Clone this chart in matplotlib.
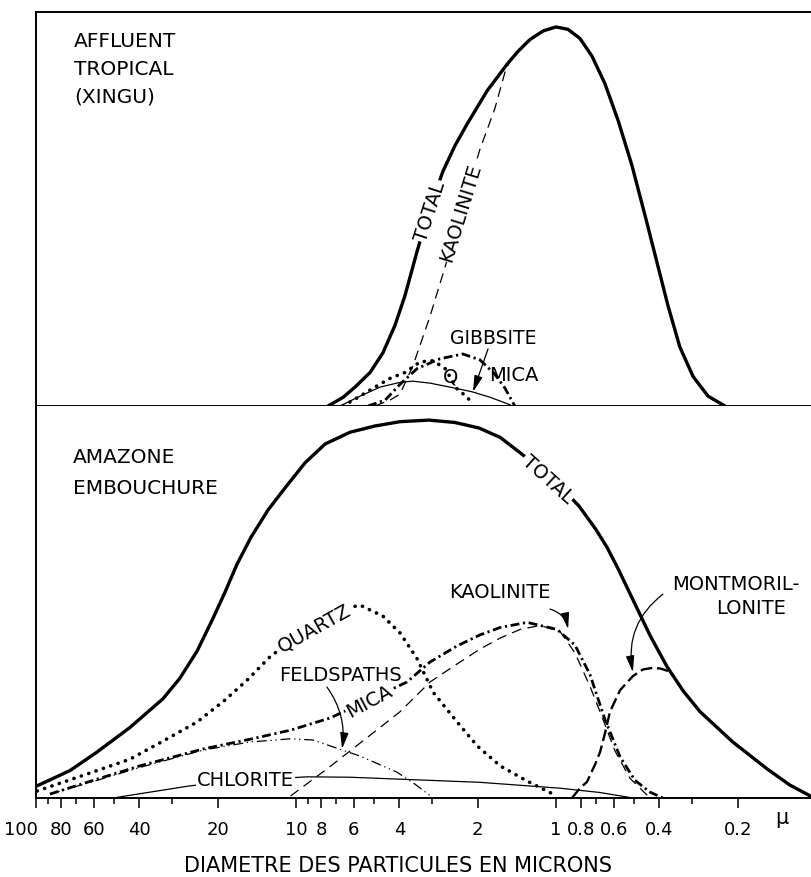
import matplotlib
matplotlib.use("Agg")
import matplotlib.pyplot as plt
from matplotlib.ticker import FixedLocator, NullFormatter

plt.rcParams["font.family"] = "DejaVu Sans"

# -------------------- data (diameter in microns, relative amount in % of panel) --------------------
# top panel : affluent tropical (Xingu)
top_total_d = [7.53, 6.59, 5.93, 5.19, 4.63, 4.16, 3.81, 3.42, 3.05, 2.72, 2.45, 2.20, 1.84, 1.54,
               1.40, 1.26, 1.12, 1.0, 0.899, 0.809, 0.727, 0.648, 0.577, 0.510, 0.455, 0.409,
               0.371, 0.334, 0.297, 0.260, 0.224]
top_total_h = [0, 2.2, 4.8, 8.5, 13.5, 20.5, 28, 39.3, 50.5, 59.6, 66, 71.5, 80, 86.8,
               90, 93, 95.2, 96.2, 95.6, 93.3, 88.8, 81.8, 72.5, 61, 48.5, 36.5,
               25.5, 15, 7.5, 2.5, 0]

top_kao_d = [4.97, 4.35, 3.98, 3.55, 3.05, 2.67, 2.40, 2.18, 1.96, 1.72, 1.57, 1.48]
top_kao_h = [0, 1.5, 3.0, 10.2, 22.8, 35.3, 45.7, 55, 65.2, 75.4, 84.8, 88.5]

top_quartz_d = [6.59, 5.67, 4.97, 4.35, 3.81, 3.33, 2.97, 2.67, 2.40, 2.20, 2.08]
top_quartz_h = [0, 2.5, 4.8, 7.0, 8.5, 11.2, 11.5, 9.5, 4.3, 2.3, 0.3]

top_mica_d = [5.28, 4.54, 3.98, 3.42, 2.79, 2.28, 1.96, 1.72, 1.57, 1.44]
top_mica_h = [0, 1.5, 5.5, 9.5, 12.0, 13.2, 11.7, 8.1, 4.5, 0]

top_gibb_d = [6.77, 5.67, 4.75, 3.98, 3.55, 3.05, 2.56, 2.10, 1.79, 1.50]
top_gibb_h = [0, 2.5, 4.8, 6.0, 6.3, 5.8, 4.8, 3.6, 2.2, 0.3]

# bottom panel : Amazone embouchure
bot_total_d = [99, 74.0, 58.3, 43.5, 32.5, 28.0, 24.0, 20.9, 18.75, 16.9, 14.9, 12.8, 10.9, 9.23,
               7.73, 6.2, 4.97, 3.98, 3.08, 2.45, 1.98, 1.64, 1.40, 1.15, 0.965, 0.816, 0.702,
               0.637, 0.577, 0.501, 0.435, 0.374, 0.324, 0.279, 0.209, 0.154, 0.126, 0.105]
bot_total_h = [3.1, 7.0, 11.7, 18.0, 25.3, 30.5, 37.5, 45.7, 52.5, 59.5, 66.5, 73.5, 79.5, 85.5,
               90.3, 93.3, 94.9, 96.0, 96.4, 95.8, 94.4, 92.0, 88.5, 84.0, 79.5, 74.5, 68.5,
               64.0, 58.5, 50.0, 41.5, 33.5, 27.3, 22.0, 14.3, 7.4, 3.3, 0.5]

bot_quartz_d = [99, 67.7, 43.5, 31.9, 24.0, 18.75, 15.4, 12.6, 10.5, 8.45, 6.77, 5.67, 4.63, 3.98,
                3.42, 2.97, 2.40, 2.01, 1.64, 1.29, 1.10, 0.991]
bot_quartz_h = [1.8, 5.5, 9.9, 14.8, 19.4, 25.0, 30.1, 36.0, 40.0, 44.5, 48.0, 49.2, 46.4, 42.1,
                35.5, 27.0, 19.4, 13.3, 8.2, 4.3, 2.0, 0.5]

bot_mica_d = [88.4, 58.3, 39.8, 22.8, 15.0, 10.5, 7.40, 5.24, 3.74, 3.05, 2.40, 1.96, 1.64, 1.29,
              0.991, 0.845, 0.740, 0.648, 0.567, 0.497, 0.435, 0.388]
bot_mica_h = [1.0, 4.8, 8.2, 12.5, 15.0, 17.3, 20.4, 25.0, 29.6, 34.7, 38.8, 41.6, 43.5, 44.8,
              43.0, 39.0, 31.5, 20.0, 10.5, 4.5, 1.5, 0]

bot_kao_d = [10.5, 7.40, 5.67, 3.98, 3.05, 2.40, 1.96, 1.64, 1.375, 1.15, 0.965, 0.845, 0.740,
             0.677, 0.593, 0.519, 0.435]
bot_kao_h = [0.5, 8, 14, 22, 29.6, 34.2, 38.0, 40.8, 43.0, 44.0, 42.5, 37, 28.5, 22, 12, 5, 0]

bot_mont_d = [0.868, 0.809, 0.760, 0.708, 0.677, 0.648, 0.620, 0.567, 0.506, 0.463, 0.424, 0.395, 0.371]
bot_mont_h = [0, 2.5, 4.1, 8.5, 11.7, 16.5, 22, 27.5, 31.1, 32.8, 33.2, 33.0, 32.4]

bot_feld_d = [88.4, 58.3, 39.8, 22.8, 15.0, 10.5, 8.60, 7.40, 5.67, 4.09, 3.48, 2.97]
bot_feld_h = [1.0, 4.5, 7.8, 12.2, 14.3, 15.1, 14.8, 13.3, 10.7, 6.6, 3.5, 0]

bot_chlo_d = [50.6, 36.4, 25.6, 15.7, 9.07, 6.2, 3.98, 1.96, 0.965, 0.677, 0.506]
bot_chlo_h = [0, 1.5, 3.1, 4.5, 5.4, 5.3, 4.8, 4.0, 2.5, 1.4, 0]

# axis ticks
top_major = [20, 10, 4, 1, 0.5, 0.2]
top_major_lab = ["20", "10", "4", "1", "0.5", "0.2"]
top_minor = [100, 90, 80, 70, 60, 50, 40, 30, 25, 9, 8, 7, 6, 5, 3, 2, 0.8, 0.7, 0.6, 0.4, 0.3]
bot_major = [100, 80, 60, 40, 20, 10, 8, 6, 4, 2, 1, 0.8, 0.6, 0.4, 0.2]
bot_major_lab = ["100", "80", "60", "40", "20", "10", "8", "6", "4", "2", "1", "0.8", "0.6", "0.4", "0.2"]
bot_minor = [90, 70, 50, 30, 9, 7, 5, 3, 0.7, 0.5, 0.3]

# -------------------- styles --------------------
THICK = 2.4
THIN = 0.9
st_total = dict(color="k", lw=THICK, solid_capstyle="round")
st_kao = dict(color="k", lw=THIN, linestyle=(0, (8, 5)))
st_quartz = dict(color="k", lw=2.6, linestyle=(0, (0.05, 2.1)), dash_capstyle="round")
st_mica = dict(color="k", lw=2.0, linestyle=(0, (3.2, 1.3, 0.8, 1.3)))
st_thin = dict(color="k", lw=THIN)
st_feld = dict(color="k", lw=THIN, linestyle=(0, (8, 3, 1, 3, 1, 3)))
st_mont = dict(color="k", lw=1.7, linestyle=(0, (5, 2)))

LAB = 14
mask = dict(boxstyle="square,pad=0.05", fc="white", ec="none")

fig = plt.figure(figsize=(8.11, 8.78), dpi=100)
L = 36 / 811
ax_top = fig.add_axes([L, (878 - 407) / 878, 1 - L, (407 - 13) / 878])
ax_bot = fig.add_axes([L, (878 - 799) / 878, 1 - L, (799 - 407) / 878])


def setup(ax, major, minor, labels, base_px, mu_dx, mu_dy, top_spine):
    ax.set_xscale("log")
    ax.set_xlim(100, 0.1045)
    ax.set_ylim(0, 100)
    ax.set_yticks([])
    ax.spines["right"].set_visible(False)
    ax.spines["top"].set_visible(top_spine)
    for s in ("left", "bottom", "top"):
        ax.spines[s].set_linewidth(1.4)
    ax.xaxis.set_major_locator(FixedLocator(major))
    ax.xaxis.set_minor_locator(FixedLocator(minor))
    ax.xaxis.set_major_formatter(NullFormatter())
    ax.xaxis.set_minor_formatter(NullFormatter())
    ax.tick_params(axis="x", which="major", direction="out", length=7, width=1.1)
    ax.tick_params(axis="x", which="minor", direction="out", length=4.5, width=1.1)
    for v, lab in zip(major, labels):
        dx = -15 if lab == "100" else 0
        ax.annotate(lab, xy=(v, 0), xycoords=ax.get_xaxis_transform(),
                    xytext=(dx, -base_px), textcoords="offset pixels",
                    ha="center", va="baseline", fontsize=13)
    ax.annotate("μ", xy=(0.2, 0), xycoords=ax.get_xaxis_transform(),
                xytext=(mu_dx, -mu_dy), textcoords="offset pixels",
                ha="center", va="baseline", fontsize=15)


setup(ax_top, top_major, top_minor, top_major_lab, 31, 37, 27, True)
setup(ax_bot, bot_major, bot_minor, bot_major_lab, 36, 44, 25, False)

# -------------------- top panel --------------------
ax_top.plot(top_total_d, top_total_h, **st_total)
ax_top.plot(top_kao_d, top_kao_h, **st_kao)
ax_top.plot(top_quartz_d, top_quartz_h, **st_quartz)
ax_top.plot(top_mica_d, top_mica_h, **st_mica)
ax_top.plot(top_gibb_d, top_gibb_h, **st_thin)

for txt, yb in [("AFFLUENT", 0.9137), ("TROPICAL", 0.8426), ("(XINGU)", 0.7716)]:
    ax_top.text(0.049, yb, txt, transform=ax_top.transAxes, fontsize=14.5, va="baseline", ha="left")

ax_top.text(3.05, 49.5, "TOTAL", rotation=72, fontsize=LAB, ha="center", va="center",
            bbox=mask, zorder=5)
ax_top.text(2.32, 49.2, "KAOLINITE", rotation=73, fontsize=LAB, ha="center", va="center",
            bbox=mask, zorder=5)
ax_top.text(1.748, 17.5, "GIBBSITE", fontsize=13.5, ha="center", va="center")
ax_top.text(2.535, 7.6, "Q", fontsize=LAB, ha="center", va="center")
ax_top.text(1.45, 8.1, "MICA", fontsize=LAB, ha="center", va="center")
ax_top.annotate("", xy=(2.085, 3.6), xytext=(1.825, 14.5),
                arrowprops=dict(arrowstyle="-|>,head_length=0.7,head_width=0.18",
                                color="k", lw=0.9, shrinkA=0, shrinkB=0, mutation_scale=14))

# -------------------- bottom panel --------------------
ax_bot.plot(bot_total_d, bot_total_h, **st_total)
ax_bot.plot(bot_quartz_d, bot_quartz_h, **st_quartz)
ax_bot.plot(bot_mica_d, bot_mica_h, **st_mica)
ax_bot.plot(bot_kao_d, bot_kao_h, **st_kao)
ax_bot.plot(bot_mont_d, bot_mont_h, **st_mont)
ax_bot.plot(bot_feld_d, bot_feld_h, **st_feld)
ax_bot.plot(bot_chlo_d, bot_chlo_h, **st_thin)

for txt, yb in [("AMAZONE", 0.857), ("EMBOUCHURE", 0.778)]:
    ax_bot.text(0.0477, yb, txt, transform=ax_bot.transAxes, fontsize=14.5, va="baseline", ha="left")

ax_bot.text(1.073, 81.5, "TOTAL", rotation=-42, fontsize=LAB, ha="center", va="center",
            bbox=mask, zorder=5)
ax_bot.text(8.53, 43.6, "QUARTZ", rotation=29, fontsize=LAB, ha="center", va="center",
            bbox=mask, zorder=5)
ax_bot.text(5.24, 24.8, "MICA", rotation=28, fontsize=LAB, ha="center", va="center",
            bbox=mask, zorder=5)
ax_bot.text(15.7, 4.6, "CHLORITE", fontsize=LAB, ha="center", va="center",
            bbox=mask, zorder=5)
ax_bot.text(6.77, 31.6, "FELDSPATHS", fontsize=LAB, ha="center", va="center")
ax_bot.text(1.64, 52.6, "KAOLINITE", fontsize=LAB, ha="center", va="center")
ax_bot.text(0.203, 54.8, "MONTMORIL-", fontsize=LAB, ha="center", va="center")
ax_bot.text(0.178, 48.7, "LONITE", fontsize=LAB, ha="center", va="center")

arrow = dict(color="k", lw=0.9, shrinkA=0, shrinkB=0, mutation_scale=14)
ax_bot.annotate("", xy=(6.65, 12.5), xytext=(7.6, 28.3),
                arrowprops=dict(arrowstyle="-|>,head_length=0.7,head_width=0.18",
                                connectionstyle="arc3,rad=-0.2", **arrow))
ax_bot.annotate("", xy=(0.898, 43.1), xytext=(1.054, 48.2),
                arrowprops=dict(arrowstyle="-|>,head_length=0.7,head_width=0.18",
                                connectionstyle="arc3,rad=-0.3", **arrow))
ax_bot.annotate("", xy=(0.506, 32.1), xytext=(0.388, 52.0),
                arrowprops=dict(arrowstyle="-|>,head_length=0.7,head_width=0.18",
                                connectionstyle="arc3,rad=0.3", **arrow))

fig.text(398 / 811, 1 - 872 / 878, "DIAMETRE DES PARTICULES EN MICRONS",
         ha="center", va="baseline", fontsize=15)

fig.savefig("out.png", dpi=100)
